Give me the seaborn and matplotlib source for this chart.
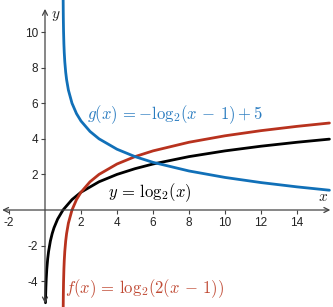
import matplotlib
matplotlib.use("Agg")
import matplotlib.pyplot as plt
import seaborn as sns
import pandas as pd

# curve samples
black_x = [0.027, 0.03, 0.04, 0.05, 0.07, 0.1, 0.15, 0.2, 0.3, 0.4, 0.5, 0.7, 1, 1.5, 2, 3, 4, 5, 6, 8, 10, 12, 14, 15.8]
black_y = [-5.21, -5.059, -4.644, -4.322, -3.837, -3.322, -2.737, -2.322, -1.737, -1.322, -1.0, -0.515, 0.0, 0.585, 1.0, 1.585, 2.0, 2.322, 2.585, 3.0, 3.322, 3.585, 3.807, 3.982]

red_x = [1.011, 1.015, 1.02, 1.03, 1.05, 1.07, 1.1, 1.15, 1.2, 1.3, 1.5, 1.75, 2, 2.5, 3, 4, 5, 6, 8, 10, 12, 14, 15.8]
red_y = [-5.506, -5.059, -4.644, -4.059, -3.322, -2.837, -2.322, -1.737, -1.322, -0.737, 0.0, 0.585, 1.0, 1.585, 2.0, 2.585, 3.0, 3.322, 3.807, 4.170, 4.459, 4.700, 4.888]

blue_x = [1.0078, 1.01, 1.015, 1.02, 1.03, 1.05, 1.07, 1.1, 1.15, 1.2, 1.3, 1.5, 1.75, 2, 2.5, 3, 4, 5, 6, 8, 10, 12, 14, 15.8]
blue_y = [12.0, 11.644, 11.059, 10.644, 10.059, 9.322, 8.837, 8.322, 7.737, 7.322, 6.737, 6.0, 5.415, 5.0, 4.415, 4.0, 3.415, 3.0, 2.678, 2.193, 1.830, 1.541, 1.300, 1.112]

x_ticks = [-2, 2, 4, 6, 8, 10, 12, 14]
y_ticks = [-4, -2, 2, 4, 6, 8, 10]

BLUE = "#1170b8"
BLUE_TXT = "#2a7cc0"
RED = "#b8321e"
RED_TXT = "#c04a34"
AXC = "#444444"

sns.set_style("white")
plt.rcParams["font.family"] = ["Liberation Sans", "DejaVu Sans"]
plt.rcParams["axes.unicode_minus"] = False
plt.rcParams["mathtext.fontset"] = "cm"

fig = plt.figure(figsize=(3.33, 3.07), dpi=100)
ax = fig.add_axes([0, 0, 1, 1])
ax.set_xlim(-2.5, 16.0)
ax.set_ylim(-5.45, 11.8)

df_b = pd.DataFrame({"x": black_x, "y": black_y})
df_r = pd.DataFrame({"x": red_x, "y": red_y})
df_g = pd.DataFrame({"x": blue_x, "y": blue_y})
sns.lineplot(data=df_b, x="x", y="y", ax=ax, color="black", lw=2.0, estimator=None, sort=False)
sns.lineplot(data=df_r, x="x", y="y", ax=ax, color=RED, lw=2.0, estimator=None, sort=False)
sns.lineplot(data=df_g, x="x", y="y", ax=ax, color=BLUE, lw=2.0, estimator=None, sort=False)

for s in ax.spines.values():
    s.set_visible(False)
ax.spines["left"].set_position(("data", 0))
ax.spines["bottom"].set_position(("data", 0))

ax.set_xticks(x_ticks)
ax.set_yticks(y_ticks)
ax.xaxis.set_ticks_position("bottom")
ax.yaxis.set_ticks_position("left")
ax.tick_params(axis="both", length=3, width=0.8, color=AXC, labelsize=8.5, labelcolor="#222222", pad=2)
ax.set_xlabel("")
ax.set_ylabel("")

ax.annotate("", xy=(15.85, 0), xytext=(-2.38, 0),
            arrowprops=dict(arrowstyle="<->", color=AXC, lw=0.9, mutation_scale=9, shrinkA=0, shrinkB=0))
ax.annotate("", xy=(0, 11.3), xytext=(0, -5.25),
            arrowprops=dict(arrowstyle="<->", color=AXC, lw=0.9, mutation_scale=9, shrinkA=0, shrinkB=0))

ax.text(15.45, 0.35, "$x$", fontsize=11, color="#222222", ha="center", va="bottom")
ax.text(0.35, 10.9, "$y$", fontsize=11, color="#222222", ha="left", va="center")

ax.text(2.33, 5.34, r"$g(x)\,=-\mathrm{log}_2(x\,-\,1)+5$", fontsize=12, color=BLUE_TXT, ha="left", va="center")
ax.text(3.5, 1.0, r"$y\,=\,\mathrm{log}_2(x)$", fontsize=12, color="black", ha="left", va="center")
ax.text(1.1, -4.4, r"$f(x)\,=\,\mathrm{log}_2(2(x\,-\,1))$", fontsize=12, color=RED_TXT, ha="left", va="center")

fig.savefig("out.png", dpi=100)
